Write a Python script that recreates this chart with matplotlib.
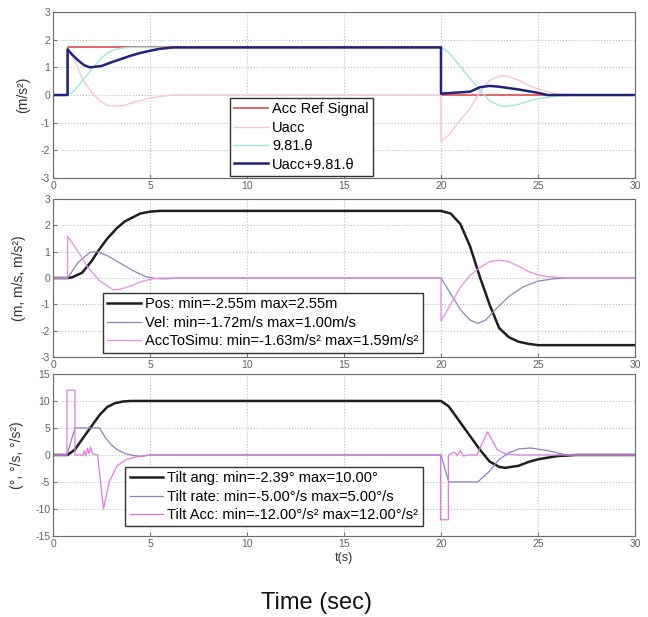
import matplotlib
matplotlib.use("Agg")
import matplotlib.pyplot as plt

plt.rcParams['font.family'] = ['Liberation Sans', 'DejaVu Sans']
plt.rcParams['axes.unicode_minus'] = False

# ---- panel 1: accelerations (m/s^2)
t_ref = [0, 0.75, 0.75, 20, 20, 30]
acc_ref = [0, 0, 1.72, 1.72, 0, 0]

t_uacc = [0, 0.75, 0.75, 1.1, 1.5, 2.0, 2.4, 2.8, 3.2, 3.6, 4.0, 4.5, 5.0, 5.5, 6.2,
          20, 20, 20.4, 21, 21.5, 22, 22.5, 23, 23.3, 24, 24.5, 25, 26, 27, 30]
uacc = [0, 0, 1.65, 1.3, 0.6, 0.08, -0.2, -0.37, -0.4, -0.38, -0.3, -0.2, -0.12, -0.05, 0,
        0, -1.67, -1.45, -0.9, -0.48, 0.1, 0.53, 0.68, 0.7, 0.54, 0.35, 0.22, 0.03, 0, 0]

t_grav = [0, 0.75, 1.1, 1.5, 2.0, 2.4, 2.8, 3.2, 3.6, 4.0, 20, 20.4, 21, 21.5, 22,
          22.5, 23, 23.3, 24, 24.5, 25, 26, 27, 30]
grav = [0, 0, 0.15, 0.5, 0.92, 1.27, 1.52, 1.65, 1.7, 1.72, 1.72, 1.55, 1.03, 0.6, 0.17,
        -0.2, -0.38, -0.41, -0.34, -0.22, -0.14, -0.03, 0, 0]

t_sum = [0, 0.75, 0.75, 1.0, 1.3, 1.6, 1.9, 2.5, 3.0, 3.5, 4.0, 4.5, 5.0, 5.5, 6.2,
         20, 20, 21.5, 22, 22.5, 23, 24, 25, 25.5, 30]
usum = [0, 0, 1.65, 1.45, 1.25, 1.08, 1.0, 1.05, 1.18, 1.3, 1.42, 1.52, 1.6, 1.67, 1.72,
        1.72, 0.05, 0.12, 0.28, 0.33, 0.3, 0.2, 0.08, 0, 0]

# ---- panel 2: position / velocity / acceleration
t_pos = [0, 0.75, 1.0, 1.5, 2.0, 2.3, 2.8, 3.3, 3.7, 4.1, 4.5, 5.0, 5.5,
         20, 20.5, 21, 21.5, 22, 22.5, 23, 23.5, 24, 24.5, 25, 30]
pos = [0, 0, 0.03, 0.2, 0.65, 1.0, 1.5, 1.9, 2.15, 2.3, 2.45, 2.52, 2.55,
       2.55, 2.45, 2.05, 1.2, 0.05, -1.0, -1.9, -2.25, -2.42, -2.5, -2.55, -2.55]

t_vel = [0, 0.75, 1.3, 1.9, 2.3, 2.8, 3.5, 4.2, 4.8, 5.3, 5.8, 6.5,
         20, 20.5, 21, 21.5, 21.9, 22.3, 22.8, 23.5, 24.2, 25, 25.8, 26.5, 30]
vel = [0, 0, 0.6, 0.97, 1.0, 0.85, 0.55, 0.25, 0.05, -0.02, -0.03, 0,
       0, -0.6, -1.2, -1.6, -1.72, -1.6, -1.2, -0.7, -0.35, -0.12, -0.03, 0, 0]

t_accs = [0, 0.75, 0.75, 1.3, 1.8, 2.4, 3.1, 3.5, 4.0, 4.5, 5.0, 5.5,
          20, 20, 20.5, 21, 21.5, 22, 22.5, 23, 23.5, 24, 24.5, 25, 25.5, 26.5, 30]
accs = [0, 0, 1.59, 1.0, 0.4, -0.1, -0.45, -0.42, -0.3, -0.15, -0.05, 0,
        0, -1.63, -1.0, -0.35, 0.1, 0.4, 0.62, 0.68, 0.62, 0.45, 0.25, 0.12, 0.05, 0, 0]

# ---- panel 3: tilt angle / rate / acceleration
t_ang = [0, 0.75, 1.13, 1.5, 2.0, 2.4, 2.8, 3.2, 3.6, 4.0,
         20, 20.4, 21, 21.5, 22, 22.5, 23, 23.3, 24, 24.5, 25, 26, 27, 30]
ang = [0, 0, 1.0, 2.9, 5.4, 7.4, 8.9, 9.6, 9.9, 10,
       10, 9.0, 6.0, 3.5, 1.0, -1.2, -2.2, -2.39, -2.0, -1.3, -0.8, -0.2, 0, 0]

t_rate = [0, 0.72, 1.13, 2.4, 2.7, 3.0, 3.3, 3.7, 4.0, 4.5, 5.0,
          20, 20.4, 21.9, 22.5, 23, 23.5, 24, 24.6, 25.5, 26.5, 30]
rate = [0, 0, 5, 5, 3.2, 1.9, 1.0, 0.3, 0, -0.3, 0,
        0, -5, -5, -3, -0.8, 0.4, 1.1, 1.3, 0.8, 0, 0]

t_tacc = [0, 0.72, 0.72, 1.13, 1.13, 1.55, 1.62, 1.7, 1.78, 1.86, 1.94, 2.02, 2.1, 2.3,
          2.6, 2.9, 3.3, 3.8, 4.5, 5.0,
          19.98, 19.98, 20.38, 20.38, 20.7, 20.85, 21.0, 21.15, 21.4, 21.85,
          22.4, 22.9, 23.3, 24.0, 30]
tacc = [0, 0, 12, 12, 0, 0, 0.8, -0.2, 1.2, 0.3, 1.5, 0.4, 0.2, 0,
        -10, -5, -2, -0.8, -0.2, 0,
        0, -12, -12, 0, 0.5, -0.1, 0.8, -0.2, 0, 0,
        4.3, 1.0, 0.2, 0, 0]

fig = plt.figure(figsize=(6.48, 6.17), dpi=100)

ax1 = fig.add_axes([0.0818, 0.7115, 0.8981, 0.269])
ax2 = fig.add_axes([0.0818, 0.4214, 0.8981, 0.256])
ax3 = fig.add_axes([0.0818, 0.1313, 0.8981, 0.2626])

ax1.plot(t_ref, acc_ref, color='#e05a5a', lw=1.3, label='Acc Ref Signal')
ax1.plot(t_uacc, uacc, color='#f5c4dc', lw=1.0, label='Uacc')
ax1.plot(t_grav, grav, color='#9fe6de', lw=1.0, label='9.81.θ')
ax1.plot(t_sum, usum, color='#22227a', lw=1.8, label='Uacc+9.81.θ')

ax2.plot(t_pos, pos, color='#1e1e1e', lw=1.8, label='Pos: min=-2.55m max=2.55m')
ax2.plot(t_vel, vel, color='#8a86b8', lw=0.9, label='Vel: min=-1.72m/s max=1.00m/s')
ax2.plot(t_accs, accs, color='#e48ee4', lw=0.9,
         label='AccToSimu: min=-1.63m/s² max=1.59m/s²')

ax3.plot(t_ang, ang, color='#1e1e1e', lw=1.8, label='Tilt ang: min=-2.39° max=10.00°')
ax3.plot(t_rate, rate, color='#8682bc', lw=0.9, label='Tilt rate: min=-5.00°/s max=5.00°/s')
ax3.plot(t_tacc, tacc, color='#e07ae0', lw=0.9,
         label='Tilt Acc: min=-12.00°/s² max=12.00°/s²')

for ax, lim, step in [(ax1, 3, 1), (ax2, 3, 1), (ax3, 15, 5)]:
    ax.set_xlim(0, 30)
    ax.set_ylim(-lim, lim)
    ax.set_xticks(range(0, 31, 5))
    ax.set_yticks(range(-lim, lim + 1, step))
    ax.grid(True, linestyle=':', color='#bcbcbc', lw=0.8)
    ax.tick_params(direction='in', labelsize=7.5, labelcolor='#606060', color='#777777',
                   length=3, pad=2)
    for s in ax.spines.values():
        s.set_color('#6a6a6a')
        s.set_linewidth(0.8)

ax1.set_ylabel('(m/s²)', fontsize=10, color='#333333')
ax2.set_ylabel('(m, m/s, m/s²)', fontsize=10, color='#333333')
ax3.set_ylabel('(°, °/s, °/s²)', fontsize=10, color='#333333')
ax1.yaxis.set_label_coords(-0.04, 0.5)
ax2.yaxis.set_label_coords(-0.047, 0.5)
ax3.yaxis.set_label_coords(-0.05, 0.5)
ax3.set_xlabel('t(s)', fontsize=9, color='#333333', labelpad=2)

leg_kw = dict(loc='upper left', fontsize=10.5, fancybox=False, framealpha=1,
              edgecolor='#333333', borderaxespad=0, handlelength=2.3,
              handletextpad=0.3, labelspacing=0.3, borderpad=0.3)
for ax, anchor in [(ax1, (0.304, 0.482)), (ax2, (0.086, 0.405)), (ax3, (0.124, 0.426))]:
    lg = ax.legend(bbox_to_anchor=anchor, **leg_kw)
    lg.get_frame().set_linewidth(1.0)

fig.text(0.488, 0.022, 'Time (sec)', fontsize=17, ha='center', va='center', color='#111111')

fig.savefig('out.png', dpi=100, facecolor='white')
